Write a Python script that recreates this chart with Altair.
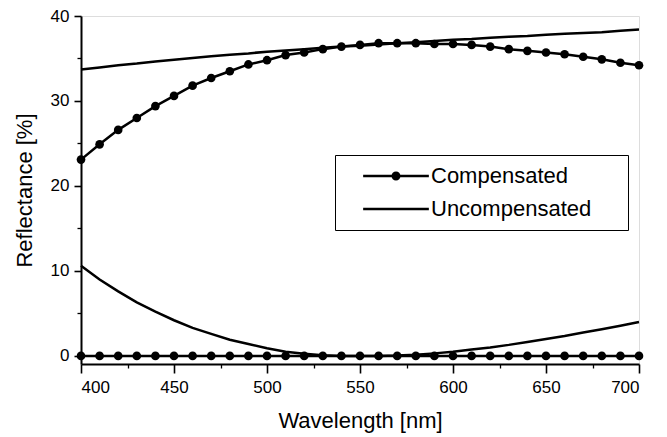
import altair as alt
import pandas as pd

# ---- data ----
wavelength = [400, 410, 420, 430, 440, 450, 460, 470, 480, 490, 500,
              510, 520, 530, 540, 550, 560, 570, 580, 590, 600,
              610, 620, 630, 640, 650, 660, 670, 680, 690, 700]

comp_upper = [23.1, 24.9, 26.6, 28.0, 29.4, 30.6, 31.8, 32.7, 33.5, 34.3, 34.8,
              35.4, 35.7, 36.1, 36.4, 36.6, 36.8, 36.8, 36.8, 36.7, 36.7,
              36.6, 36.4, 36.1, 35.9, 35.7, 35.5, 35.2, 34.9, 34.5, 34.2]

comp_lower = [0.0, 0.0, 0.0, 0.0, 0.0, 0.0, 0.0, 0.0, 0.0, 0.0, 0.0,
              0.0, 0.0, 0.0, 0.0, 0.0, 0.0, 0.0, 0.0, 0.0, 0.0,
              0.0, 0.0, 0.0, 0.0, 0.0, 0.0, 0.0, 0.0, 0.0, 0.0]

uncomp_upper = [33.7, 33.95, 34.2, 34.4, 34.65, 34.85, 35.05, 35.25, 35.45, 35.6, 35.8,
                35.95, 36.1, 36.25, 36.4, 36.5, 36.65, 36.8, 36.9, 37.05, 37.2,
                37.3, 37.45, 37.55, 37.65, 37.8, 37.9, 38.0, 38.1, 38.25, 38.4]

uncomp_lower = [10.6, 9.0, 7.6, 6.3, 5.2, 4.2, 3.3, 2.6, 1.9, 1.4, 0.9,
                0.5, 0.25, 0.08, 0.0, 0.0, 0.0, 0.05, 0.15, 0.3, 0.5,
                0.75, 1.0, 1.3, 1.65, 2.0, 2.35, 2.75, 3.15, 3.55, 4.0]

series_names = ["Compensated", "Uncompensated"]
x_major = [400, 450, 500, 550, 600, 650, 700]
x_minor = [425, 475, 525, 575, 625, 675]
y_major = [0, 10, 20, 30, 40]
y_minor = [5, 15, 25, 35]

rows = []
for name, series, vals in [
    ("comp_hi", "Compensated", comp_upper),
    ("comp_lo", "Compensated", comp_lower),
    ("unc_hi", "Uncompensated", uncomp_upper),
    ("unc_lo", "Uncompensated", uncomp_lower),
]:
    for w, v in zip(wavelength, vals):
        rows.append({"wl": w, "R": v, "curve": name, "series": series})
df = pd.DataFrame(rows)

FONT = "Liberation Sans"

xscale = alt.Scale(domain=[400, 700], nice=False, zero=False)
yscale = alt.Scale(domain=[-0.95, 40], nice=False, zero=False)

x_axis = alt.Axis(values=x_major, orient="bottom", ticks=True, tickSize=9, tickWidth=1.6,
                  domainWidth=2, domainColor="black", tickColor="black",
                  labelFont=FONT, labelFontSize=17, labelColor="black",
                  labelPadding=6, grid=False, zindex=2,
                  title="Wavelength [nm]", titleFont=FONT, titleFontSize=22,
                  titleFontWeight="normal", titleColor="black", titlePadding=15)
y_axis = alt.Axis(values=y_major, orient="left", ticks=True, tickSize=7, tickWidth=1.6,
                  domainWidth=2, domainColor="black", tickColor="black",
                  labelFont=FONT, labelFontSize=17, labelColor="black",
                  labelPadding=5, grid=False, zindex=2,
                  title="Reflectance [%]", titleFont=FONT, titleFontSize=22,
                  titleFontWeight="normal", titleColor="black", titlePadding=14)

x_minor_axis = alt.Axis(values=x_minor, orient="bottom", ticks=True, tickSize=4, tickWidth=1.3,
                        tickColor="black", labels=False, domain=False, grid=False,
                        title=None, zindex=2)
y_minor_axis = alt.Axis(values=y_minor, orient="left", ticks=True, tickSize=4, tickWidth=1.3,
                        tickColor="black", labels=False, domain=False, grid=False,
                        title=None, zindex=2)

lines = alt.Chart(df).mark_line(color="black", strokeWidth=2.5).encode(
    x=alt.X("wl:Q", scale=xscale, axis=x_axis),
    y=alt.Y("R:Q", scale=yscale, axis=y_axis),
    detail="curve:N",
    order="wl:Q",
)

dots = alt.Chart(df).transform_filter(
    alt.datum.series == "Compensated"
).mark_circle(color="black", size=75, opacity=1).encode(
    x=alt.X("wl:Q", scale=xscale, axis=x_minor_axis),
    y=alt.Y("R:Q", scale=yscale, axis=y_minor_axis),
)

comp_path = "M-7.3,-0.28H7.3V0.28H-7.3Z M-1,0A1,1 0 1,1 1,0A1,1 0 1,1 -1,0Z"
unc_path = "M-7.3,-0.28H7.3V0.28H-7.3Z"

legend_layer = alt.Chart(df).mark_point(filled=True, opacity=0, color="black").encode(
    x=alt.X("wl:Q", scale=xscale, axis=None),
    y=alt.Y("R:Q", scale=yscale, axis=None),
    shape=alt.Shape("series:N",
                    scale=alt.Scale(domain=series_names, range=[comp_path, unc_path]),
                    legend=alt.Legend(
                        title=".", titleOrient="right", titleFontSize=21,
                        titleColor="white", titlePadding=21,
                        orient="none", legendX=254, legendY=139,
                        padding=10, strokeColor="black", fillColor="white",
                        symbolSize=81, symbolOpacity=1, symbolFillColor="black",
                        symbolStrokeWidth=0, symbolOffset=40, labelOffset=24,
                        labelFont=FONT, labelFontSize=22, labelColor="black",
                        labelLimit=400, rowPadding=11,
                    )),
)

chart = alt.layer(lines, dots, legend_layer).resolve_axis(
    x="independent", y="independent"
).properties(
    width=558, height=348,
    autosize=alt.AutoSizeParams(type="none"),
    padding={"left": 73, "top": 8, "right": 20, "bottom": 73},
).configure_view(
    stroke="black", strokeWidth=1.2
).configure(background="white")

chart.save("out.html", embed_options={"renderer": "svg", "actions": False})
